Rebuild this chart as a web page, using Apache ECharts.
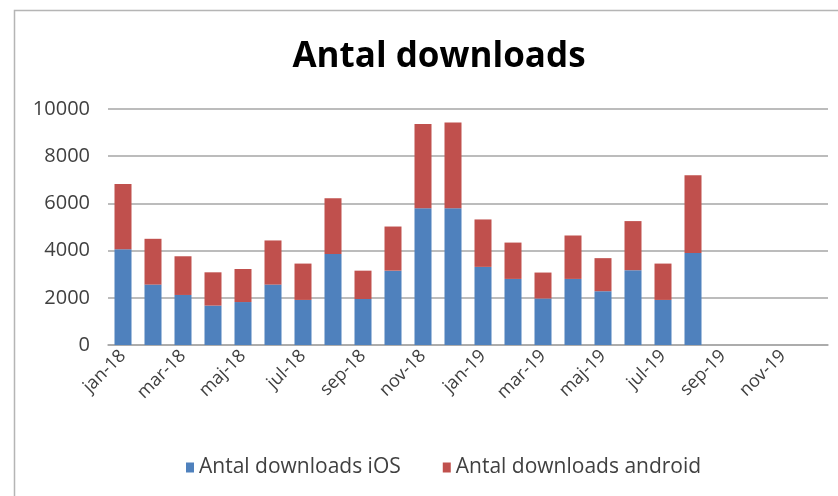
<!DOCTYPE html>
<html>
<head>
<meta charset="utf-8">
<script src="https://cdn.jsdelivr.net/npm/echarts@6/dist/echarts.min.js"></script>
<style>html,body{margin:0;padding:0;background:#fff}#c{width:838px;height:496px}</style>
</head>
<body>
<div id="c"></div>
<script>
const categories = ['jan-18','feb-18','mar-18','apr-18','maj-18','jun-18','jul-18','aug-18','sep-18','okt-18','nov-18','dec-18',
  'jan-19','feb-19','mar-19','apr-19','maj-19','jun-19','jul-19','aug-19','sep-19','okt-19','nov-19','dec-19'];
const iosValues = [4060,2560,2120,1670,1820,2560,1910,3860,1950,3150,5790,5790,3310,2800,1970,2800,2280,3170,1910,3900,null,null,null,null];
const totalValues = [6820,4500,3760,3080,3220,4430,3450,6220,3150,5020,9360,9430,5320,4340,3070,4640,3680,5250,3450,7190,null,null,null,null];
const androidValues = totalValues.map((t,i)=> t==null ? null : t - iosValues[i]);
const seriesNames = ['Antal downloads iOS','Antal downloads android'];
const titleText = 'Antal downloads';

const chart = echarts.init(document.getElementById('c'));
chart.setOption({
  animation:false,
  backgroundColor:'#fff',
  title:{text:titleText,left:434,textAlign:'center',top:35,
    textStyle:{fontFamily:'Open Sans',fontWeight:'bold',fontSize:35,color:'#000'}},
  graphic:[{type:'rect',shape:{x:14.5,y:10.5,width:840,height:500},
    style:{fill:null,stroke:'#b5b5b5',lineWidth:1.5},silent:true}],
  legend:{top:452,left:181,itemWidth:8,itemHeight:10,itemGap:42,icon:'rect',
    textStyle:{fontFamily:'Open Sans',fontSize:21,color:'#404040'}},
  grid:{left:108,right:10,top:109,bottom:151,containLabel:false},
  xAxis:{type:'category',data:categories,
    axisLine:{lineStyle:{color:'#a6a6a6',width:1.5}},axisTick:{show:false},
    axisLabel:{interval:1,rotate:45,fontFamily:'Open Sans',fontSize:18,color:'#404040',margin:8}},
  yAxis:{type:'value',min:0,max:10000,interval:2000,
    axisLabel:{fontFamily:'Open Sans',fontSize:20,color:'#404040',margin:18,formatter:v=>String(v)},
    splitLine:{lineStyle:{color:'#a6a6a6',width:1.5}},axisLine:{show:false},axisTick:{show:false}},
  series:[
    {name:seriesNames[0],type:'bar',stack:'t',data:iosValues,barWidth:17,itemStyle:{color:'#4F81BD'}},
    {name:seriesNames[1],type:'bar',stack:'t',data:androidValues,barWidth:17,itemStyle:{color:'#C0504D'}}
  ]
});
</script>
</body>
</html>
